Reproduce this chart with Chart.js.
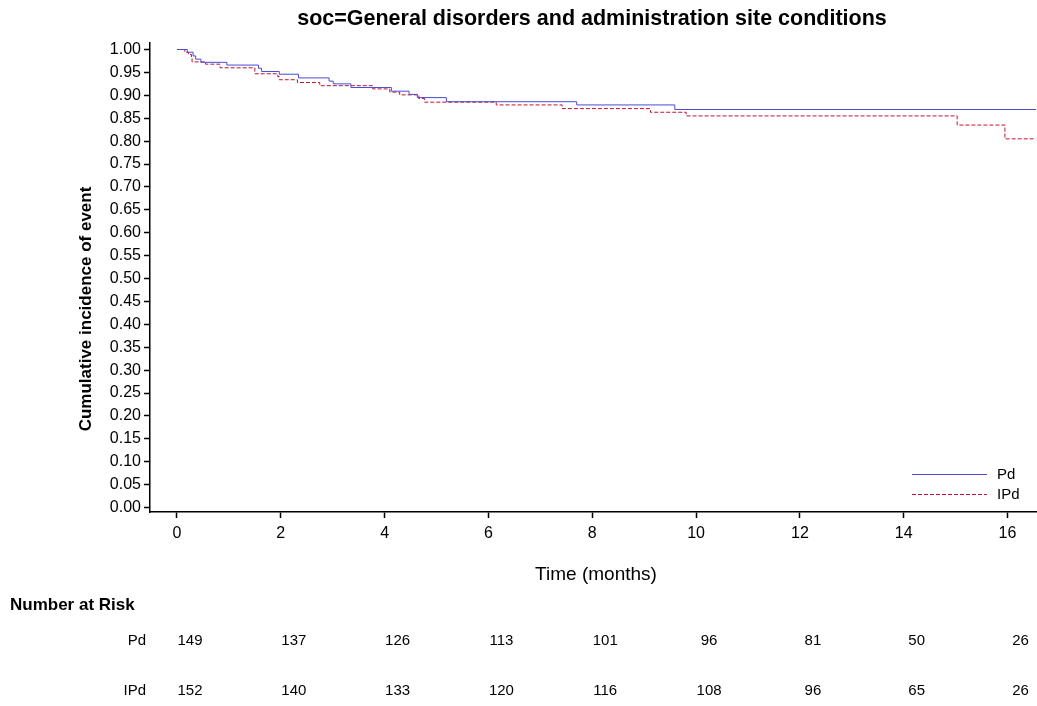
<!DOCTYPE html>
<html>
<head>
<meta charset="utf-8">
<script src="https://cdn.jsdelivr.net/npm/chart.js@4.4.1/dist/chart.umd.min.js"></script>
<style>
  html, body { margin: 0; padding: 0; background: #fff; }
  #wrap { width: 1037px; height: 706px; position: relative; }
</style>
</head>
<body>
<div id="wrap"><canvas id="kmChart" width="1037" height="706"></canvas></div>
<script>
// step times (months) and curve values for each arm
const pdTime = [0, 0.20, 0.31, 0.36, 0.46, 0.96, 1.57, 1.63, 1.97, 2.34, 2.93, 3.01, 3.35, 4.13, 4.47, 4.63, 5.19, 7.70, 9.59, 16.55];
const pdSurv = [1.000, 0.994, 0.986, 0.979, 0.972, 0.966, 0.959, 0.952, 0.946, 0.938, 0.931, 0.925, 0.917, 0.909, 0.902, 0.895, 0.886, 0.879, 0.869, 0.869];

const ipdTime = [0, 0.15, 0.22, 0.28, 0.29, 0.55, 0.83, 1.50, 1.94, 1.97, 2.32, 2.75, 3.77, 4.10, 4.29, 4.66, 4.77, 6.15, 7.42, 9.12, 9.81, 15.03, 15.95, 16.55];
const ipdSurv = [1.000, 0.994, 0.989, 0.981, 0.973, 0.968, 0.960, 0.947, 0.941, 0.934, 0.928, 0.921, 0.914, 0.907, 0.901, 0.893, 0.885, 0.879, 0.871, 0.863, 0.855, 0.835, 0.805, 0.805];

// number at risk table
const riskTimes = [0, 2, 4, 6, 8, 10, 12, 14, 16];
const pdRisk = [149, 137, 126, 113, 101, 96, 81, 50, 26];
const ipdRisk = [152, 140, 133, 120, 116, 108, 96, 65, 26];

const armNames = ['Pd', 'IPd'];
const titleText = 'soc=General disorders and administration site conditions';

const blue = '#4b4bd6';
const red = '#be1430';

function toPoints(t, s) {
  return t.map((v, i) => ({ x: v, y: s[i] }));
}

const extras = {
  id: 'extras',
  afterDraw(chart) {
    const ctx = chart.ctx;
    const xs = chart.scales.x;
    ctx.save();
    ctx.fillStyle = '#000';

    // title
    ctx.font = 'bold 21.5px "Liberation Sans", Arial';
    ctx.textAlign = 'center';
    ctx.textBaseline = 'middle';
    ctx.fillText(titleText, 592, 19);

    // y axis title
    ctx.save();
    ctx.translate(86, 309);
    ctx.rotate(-Math.PI / 2);
    ctx.font = 'bold 17px "Liberation Sans", Arial';
    ctx.fillText('Cumulative incidence of event', 0, 0);
    ctx.restore();

    // x axis title
    ctx.font = '19px "Liberation Sans", Arial';
    ctx.fillText('Time (months)', 596, 575);

    // legend
    const ds = chart.data.datasets;
    ds.forEach((d, i) => {
      const y = 474 + i * 20;
      ctx.save();
      ctx.strokeStyle = d.borderColor;
      ctx.lineWidth = 1;
      ctx.setLineDash(d.borderDash || []);
      ctx.beginPath();
      ctx.moveTo(912, y + 0.5);
      ctx.lineTo(987, y + 0.5);
      ctx.stroke();
      ctx.restore();
      ctx.font = '15px "Liberation Sans", Arial';
      ctx.textAlign = 'left';
      ctx.fillText(d.label, 997, y + 1);
    });

    // number at risk
    ctx.font = 'bold 17px "Liberation Sans", Arial';
    ctx.textAlign = 'left';
    ctx.fillText('Number at Risk', 10, 605);
    ctx.font = '15px "Liberation Sans", Arial';
    [pdRisk, ipdRisk].forEach((row, r) => {
      const y = 641 + r * 50;
      ctx.textAlign = 'right';
      ctx.fillText(armNames[r], 146, y);
      ctx.textAlign = 'center';
      row.forEach((n, i) => {
        ctx.fillText(String(n), xs.getPixelForValue(riskTimes[i]) + 13, y);
      });
    });
    ctx.restore();
  }
};

new Chart(document.getElementById('kmChart'), {
  type: 'line',
  data: {
    datasets: [
      {
        label: armNames[0],
        data: toPoints(pdTime, pdSurv),
        borderColor: blue,
        borderWidth: 1,
        stepped: true,
        pointRadius: 0,
        fill: false
      },
      {
        label: armNames[1],
        data: toPoints(ipdTime, ipdSurv),
        borderColor: red,
        borderWidth: 1,
        borderDash: [4, 2],
        stepped: true,
        pointRadius: 0,
        fill: false
      }
    ]
  },
  options: {
    responsive: false,
    animation: false,
    layout: { padding: { top: 43, right: 0, left: 0, bottom: 0 } },
    plugins: {
      legend: { display: false },
      tooltip: { enabled: false }
    },
    scales: {
      x: {
        type: 'linear',
        min: -0.52,
        max: 16.568,
        afterFit(scale) { scale.height = 194; },
        border: { color: '#000', width: 1.5 },
        grid: { drawOnChartArea: false, tickLength: 6, color: '#000', tickWidth: 1.5 },
        ticks: {
          stepSize: 2,
          includeBounds: false,
          color: '#000',
          padding: 6,
          maxRotation: 0,
          font: { size: 16, family: '"Liberation Sans", Arial' }
        }
      },
      y: {
        min: -0.0098,
        max: 1.0142,
        afterFit(scale) { scale.width = 150; },
        border: { color: '#000', width: 1.5 },
        grid: { drawOnChartArea: false, tickLength: 6, color: '#000', tickWidth: 1.5 },
        ticks: {
          stepSize: 0.05,
          includeBounds: false,
          color: '#000',
          padding: 3,
          font: { size: 16, family: '"Liberation Sans", Arial' },
          callback: v => v.toFixed(2)
        }
      }
    }
  },
  plugins: [extras]
});
</script>
</body>
</html>
